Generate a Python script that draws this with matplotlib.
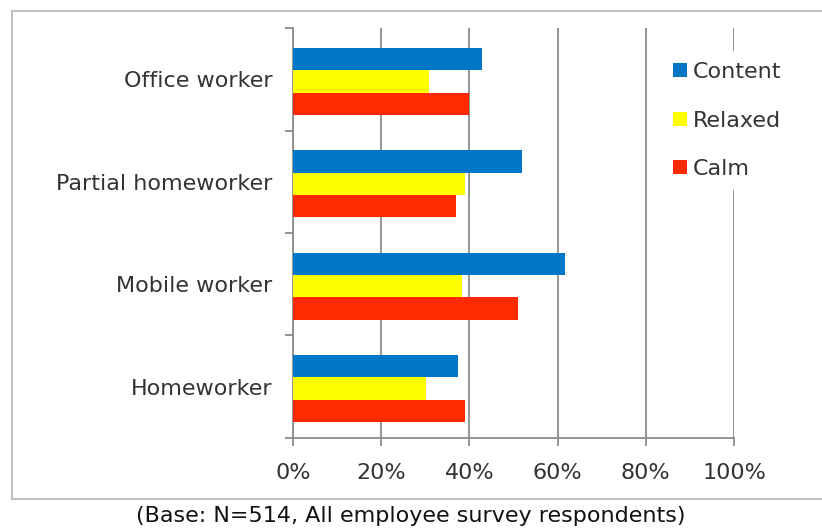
import matplotlib
matplotlib.use("Agg")
import matplotlib.pyplot as plt
from matplotlib.lines import Line2D
from matplotlib.ticker import FixedLocator, PercentFormatter

categories = ["Office worker", "Partial homeworker", "Mobile worker", "Homeworker"]
content = [42.8, 51.9, 61.7, 37.5]
relaxed = [30.8, 38.9, 38.3, 30.1]
calm = [39.8, 37.0, 51.1, 38.9]
series_names = ["Content", "Relaxed", "Calm"]
x_ticks = [0, 20, 40, 60, 80, 100]
caption = "(Base: N=514, All employee survey respondents)"

colors = ["#0077C6", "#FFFF00", "#FF2A00"]
text_color = "#333333"
grid_color = "#8C8C8C"
border_color = "#BFBFBF"
FS = 16

W, H = 822, 528
fig = plt.figure(figsize=(W / 100, H / 100), dpi=100)
fig.patch.set_facecolor("white")

# outer chart border (right edge lies beyond the image)
bx0, by0, by1 = 11.5, 10.5, 499
for xs, ys in [([bx0, W + 5], [by0, by0]), ([bx0, W + 5], [by1, by1]), ([bx0, bx0], [by0, by1])]:
    fig.lines.append(Line2D([x / W for x in xs], [1 - y / H for y in ys],
                            transform=fig.transFigure, color=border_color, linewidth=1.5))

left, right = 293 / W, 734 / W
top, bottom = 28.3 / H, 437.7 / H
ax = fig.add_axes([left, 1 - bottom, right - left, bottom - top])

n = len(categories)
h = 0.218
centers = [i + 0.5 + 0.02 for i in range(n)]
for k, (vals, col, name) in enumerate(zip([content, relaxed, calm], colors, series_names)):
    ys = [c + (k - 1) * h for c in centers]
    ax.barh(ys, vals, height=h, color=col, label=name, zorder=3, linewidth=0)

ax.set_xlim(0, 100)
ax.set_ylim(n, 0)

ax.xaxis.set_major_locator(FixedLocator(x_ticks))
ax.xaxis.set_major_formatter(PercentFormatter(decimals=0))
ax.grid(axis="x", color=grid_color, linewidth=1.3, zorder=0)

ax.yaxis.set_major_locator(FixedLocator(list(range(n + 1))))
ax.yaxis.set_major_formatter(plt.NullFormatter())
ax.yaxis.set_minor_locator(FixedLocator([i + 0.5 for i in range(n)]))
ax.set_yticklabels(categories, minor=True)

ax.tick_params(axis="y", which="major", length=6, width=1.3, color=grid_color, direction="out")
ax.tick_params(axis="y", which="minor", length=0, pad=15, labelsize=FS, labelcolor=text_color)
ax.tick_params(axis="x", which="major", length=6, width=1.3, color=grid_color, direction="out",
               pad=12, labelsize=FS, labelcolor=text_color)

for s in ["top", "right"]:
    ax.spines[s].set_visible(False)
for s in ["left", "bottom"]:
    ax.spines[s].set_color(grid_color)
    ax.spines[s].set_linewidth(1.3)

leg = ax.legend(loc="upper left", bbox_to_anchor=(651 / W, 1 - 40 / H),
                bbox_transform=fig.transFigure, frameon=True, fontsize=FS,
                handlelength=0.6, handleheight=0.6, handletextpad=0.3,
                labelspacing=1.28, borderpad=0.5, labelcolor=text_color)
leg.get_frame().set_edgecolor("none")
leg.get_frame().set_facecolor("white")
leg.get_frame().set_alpha(1)
leg.set_zorder(5)

fig.text(0.5, 1 - 516 / H, caption, ha="center", va="center", fontsize=FS, color="#111111")

fig.savefig("out.png", dpi=100, facecolor="white")
